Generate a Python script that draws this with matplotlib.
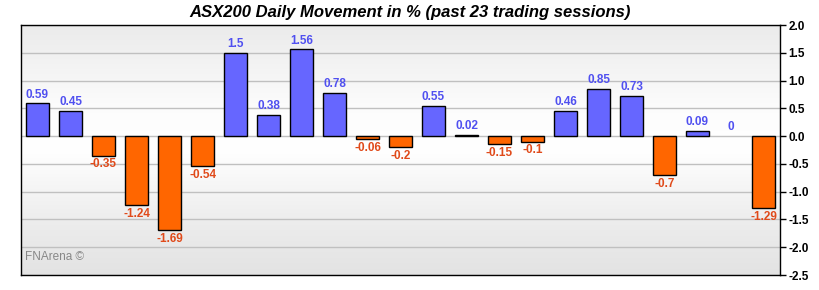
import numpy as np
import matplotlib.pyplot as plt
from matplotlib.colors import LinearSegmentedColormap

plt.rcParams['font.family'] = ['Liberation Sans', 'DejaVu Sans']

# daily moves of the ASX200, in %
valori = [0.59, 0.45, -0.35, -1.24, -1.69, -0.54, 1.5, 0.38, 1.56, 0.78, -0.06,
          -0.2, 0.55, 0.02, -0.15, -0.1, 0.46, 0.85, 0.73, -0.7, 0.09, 0, -1.29]
etichete = ["0.59", "0.45", "-0.35", "-1.24", "-1.69", "-0.54", "1.5", "0.38", "1.56",
            "0.78", "-0.06", "-0.2", "0.55", "0.02", "-0.15", "-0.1", "0.46", "0.85",
            "0.73", "-0.7", "0.09", "0", "-1.29"]
ticks_y = [2.0, 1.5, 1.0, 0.5, 0.0, -0.5, -1.0, -1.5, -2.0, -2.5]

albastru = "#6666ff"
portocaliu = "#ff6600"

fig = plt.figure(figsize=(8.2, 2.9), dpi=100)
ax = fig.add_axes([21 / 820, 15 / 290, 759 / 820, 250 / 290])

n = len(valori)
x = np.arange(n)
ax.set_xlim(-0.5, n - 0.5)
ax.set_ylim(-2.5, 2.0)

# fundal cu gradient (gri sus, alb la mijloc, gri jos)
grad = LinearSegmentedColormap.from_list("g", [(0, "#e3e3e3"), (0.2, "#ececec"),
                                               (0.5, "#ffffff"), (0.65, "#fdfdfd"),
                                               (1, "#ebebeb")])
ax.imshow(np.linspace(0, 1, 256).reshape(-1, 1), cmap=grad, aspect="auto",
          extent=[-0.5, n - 0.5, -2.5, 2.0], origin="lower", zorder=0)

for t in ticks_y:
    ax.axhline(t, color="#c0c0c0", lw=1, zorder=1)

culori = [albastru if v >= 0 else portocaliu for v in valori]
grosimi = [1 if v != 0 else 0 for v in valori]  # fara bara pentru 0
ax.bar(x, valori, width=0.7, color=culori, edgecolor="black", linewidth=grosimi, zorder=2)

for i, v in enumerate(valori):
    if v >= 0:
        ax.text(i, v + 0.05, etichete[i], ha="center", va="bottom", fontsize=8.5,
                fontweight="bold", color="#5050f0", zorder=3)
    else:
        ax.text(i, v - 0.05, etichete[i], ha="center", va="top", fontsize=8.5,
                fontweight="bold", color="#e04a1a", zorder=3)

ax.yaxis.tick_right()
ax.set_yticks(ticks_y)
ax.set_yticklabels(["%.1f" % t for t in ticks_y], fontsize=8.5, fontweight="bold")
ax.tick_params(axis="y", direction="out", length=4, width=1, pad=2)
ax.set_xticks([])
for s in ax.spines.values():
    s.set_linewidth(1)

ax.text(0.005, 0.07, "FNArena ©", transform=ax.transAxes, fontsize=8.5,
        color="#888888", va="center", ha="left", zorder=3)

fig.text(410 / 820, 1 - 12 / 290, "ASX200 Daily Movement in % (past 23 trading sessions)",
         ha="center", va="center", fontsize=12, fontweight="bold", style="italic")

fig.savefig("out.png", dpi=100)
